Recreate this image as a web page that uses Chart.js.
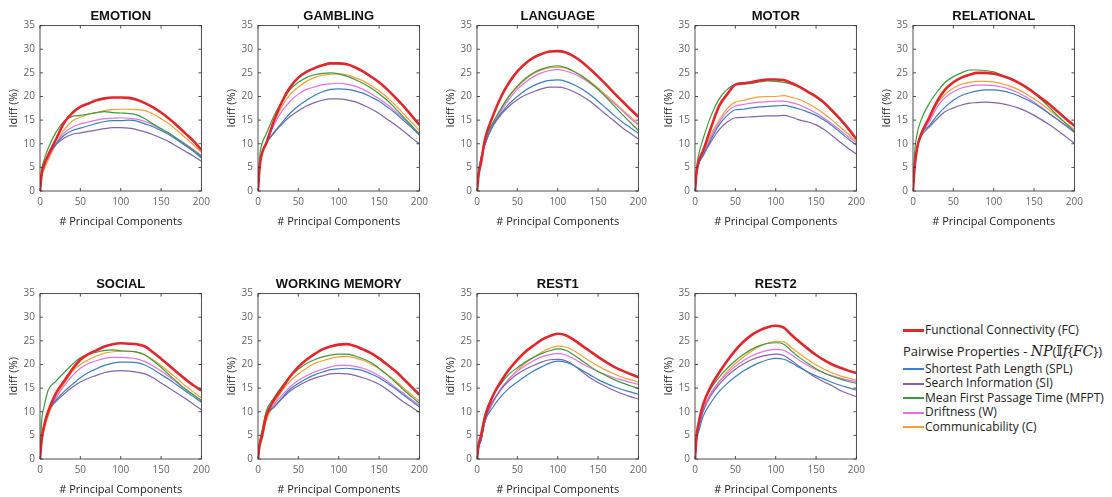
<!DOCTYPE html>
<html>
<head>
<meta charset="utf-8">
<script src="https://cdn.jsdelivr.net/npm/chart.js@4.4.1/dist/chart.umd.min.js"></script>
<style>
  html, body { margin: 0; padding: 0; background: #fff; }
  #fig { position: relative; width: 1112px; height: 497px; overflow: hidden; }
  #fig canvas { position: absolute; }
  #legend { position: absolute; left: 903px; top: 323px; font-family: "Open Sans", sans-serif; font-size: 12px; color: #222; }
  #legend .row { height: 14.5px; line-height: 14.5px; white-space: nowrap; }
  #legend .sw { display: inline-block; width: 21px; height: 2px; vertical-align: middle; margin-right: 1px; }
  #legend .head { height: 20px; line-height: 20px; margin: 3px 0 1px 0; font-size: 13px; }
  #legend .math { font-family: "DejaVu Serif", serif; font-style: italic; font-size: 14px; }
</style>
</head>
<body>
<div id="fig">
  <div id="legend">
    <div class="row"><span class="sw" style="background:#e3262b;height:3px"></span>Functional Connectivity (FC)</div>
    <div class="row head">Pairwise Properties - <span class="math">NP</span>(<span class="math" style="font-style:normal">𝕀</span><span class="math">f</span>{<span class="math">FC</span>})</div>
    <div class="row"><span class="sw" style="background:#3a7fc0"></span>Shortest Path Length (SPL)</div>
    <div class="row"><span class="sw" style="background:#8264ad"></span>Search Information (SI)</div>
    <div class="row"><span class="sw" style="background:#3c9a3f"></span>Mean First Passage Time (MFPT)</div>
    <div class="row"><span class="sw" style="background:#e470e4"></span>Driftness (W)</div>
    <div class="row"><span class="sw" style="background:#f5a032"></span>Communicability (C)</div>
  </div>
</div>
<script>

// number of principal components kept (x positions of every curve)
const pcs = [0, 2, 5, 10, 20, 30, 40, 50, 60, 70, 80, 90, 100, 110, 120, 130, 140, 150, 160, 170, 180, 190, 200];

const xTicks = [0, 50, 100, 150, 200];
const yTicks = [0, 5, 10, 15, 20, 25, 30, 35];

const seriesNames  = ['FC', 'SPL', 'SI', 'MFPT', 'W', 'C'];
const seriesColors = ['#e3262b', '#3a7fc0', '#8264ad', '#3c9a3f', '#e470e4', '#f5a032'];

// Idiff (%) per task
const emotion_fc   = [0, 3.5, 5.5, 7.5, 11, 14.5, 16.5, 17.8, 18.5, 19.2, 19.6, 19.8, 19.8, 19.7, 19.3, 18.6, 17.7, 16.6, 15.3, 13.8, 12.2, 10.6, 8.7];
const emotion_spl  = [0, 3.5, 5.5, 7.5, 10, 11.8, 12.8, 13.3, 13.8, 14.3, 14.7, 14.9, 14.9, 15, 14.8, 14.2, 13.6, 12.8, 11.9, 10.8, 9.6, 8.4, 7];
const emotion_si   = [0, 3.5, 5.5, 7.5, 9.8, 11.2, 12, 12.3, 12.6, 12.9, 13.2, 13.4, 13.4, 13.3, 13, 12.5, 11.9, 11.2, 10.4, 9.4, 8.4, 7.4, 6.3];
const emotion_mfpt = [0, 4.5, 6.5, 9, 12.5, 14.8, 15.8, 16, 16.3, 16.6, 16.8, 16.6, 16.5, 16.4, 16.1, 15.3, 14.2, 13.2, 12.2, 11, 9.8, 8.6, 7.3];
const emotion_w    = [0, 3.5, 5.5, 7, 10, 12.3, 13.5, 14.2, 14.6, 15, 15.3, 15.4, 15.5, 15.4, 15.2, 14.7, 14, 13.1, 12.2, 11.1, 10, 8.8, 7.5];
const emotion_c    = [0, 3, 4.5, 6.5, 10, 13, 14.8, 15.6, 16.2, 16.6, 17, 17.2, 17.3, 17.3, 17.2, 17, 16.3, 15.3, 14.2, 12.8, 11.3, 9.8, 8.2];

const gambling_fc   = [0, 5, 8, 10, 15, 19, 22, 24, 25.2, 26, 26.6, 27, 27, 26.8, 26.2, 25.3, 24.2, 23, 21.5, 19.8, 18, 16, 14];
const gambling_spl  = [0, 5, 8, 10, 12.5, 14.5, 16.5, 18, 19.2, 20.2, 21, 21.5, 21.6, 21.5, 21.2, 20.7, 19.9, 19, 17.8, 16.5, 15, 13.5, 11.8];
const gambling_si   = [0, 5, 8, 10, 12.3, 14.2, 15.8, 17, 18, 18.7, 19.2, 19.5, 19.5, 19.3, 18.9, 18.2, 17.4, 16.4, 15.2, 14, 12.7, 11.3, 10];
const gambling_mfpt = [0, 7, 10, 12, 16, 19, 21.5, 23, 24, 24.6, 24.9, 25, 24.8, 24.3, 23.6, 22.8, 21.8, 20.6, 19.2, 17.5, 15.7, 13.9, 12];
const gambling_w    = [0, 5, 8, 10, 14, 17, 19, 20.5, 21.5, 22, 22.5, 22.7, 22.8, 22.6, 22.2, 21.5, 20.6, 19.5, 18.3, 16.9, 15.4, 13.8, 12.2];
const gambling_c    = [0, 5, 8, 10, 14.5, 18, 20.5, 22, 23.2, 24, 24.5, 24.7, 24.8, 24.6, 24, 23.3, 22.3, 21.2, 19.8, 18.2, 16.4, 14.6, 12.8];

const language_fc   = [0, 3.5, 6, 11, 16, 20, 23, 25.3, 27, 28.2, 29, 29.5, 29.6, 29.3, 28.5, 27.3, 25.8, 24.2, 22.5, 20.7, 19, 17.3, 15.7];
const language_spl  = [0, 4, 7, 10, 14, 16.5, 18.5, 20, 21.3, 22.3, 23, 23.4, 23.5, 23.2, 22.5, 21.6, 20.4, 19, 17.5, 16, 14.6, 13.4, 12.2];
const language_si   = [0, 4, 7, 10, 13.8, 16.2, 18, 19.3, 20.3, 21, 21.6, 22, 22, 21.7, 21, 20.1, 19, 17.6, 16.2, 14.8, 13.4, 12.2, 11];
const language_mfpt = [0, 4, 7, 11, 14.5, 17.5, 20.2, 22.2, 23.8, 25, 25.8, 26.3, 26.5, 26.1, 25.3, 24.3, 23, 21.5, 19.8, 18, 16.2, 14.5, 12.8];
const language_w    = [0, 3.5, 6.5, 10, 14, 17, 19.5, 21.5, 23, 24.2, 25, 25.5, 25.7, 25.4, 24.8, 23.9, 22.8, 21.5, 20, 18.5, 17, 15.4, 14];
const language_c    = [0, 3.5, 6.5, 10.5, 14.5, 17.5, 20, 22, 23.6, 24.8, 25.6, 26.1, 26.2, 26, 25.3, 24.4, 23.2, 21.8, 20.3, 18.8, 17.2, 15.7, 14.2];

const motor_fc   = [0, 4, 6.5, 8.5, 13.5, 18, 20.5, 22.5, 22.8, 23, 23.4, 23.6, 23.6, 23.5, 22.8, 22, 21, 20, 18.7, 17, 15.2, 13.2, 11];
const motor_spl  = [0, 4, 6, 7.5, 11, 14, 16, 17.2, 17.3, 17.6, 17.8, 17.9, 18, 18.1, 17.8, 17.3, 16.7, 16, 15, 13.8, 12.4, 11, 9.7];
const motor_si   = [0, 4, 6, 7.5, 10.5, 13, 14.6, 15.5, 15.6, 15.7, 15.8, 15.9, 15.9, 16, 15.6, 15, 14.6, 14, 13, 11.7, 10.3, 9, 7.8];
const motor_mfpt = [0, 5, 8, 11, 16, 19.5, 21.5, 22.5, 22.6, 22.8, 23.1, 23.3, 23.2, 23, 22.6, 22, 21, 19.8, 18.5, 16.8, 15, 13, 11];
const motor_w    = [0, 4, 6, 7.5, 11.5, 14.5, 16.8, 18, 18.3, 18.6, 18.8, 18.9, 19, 19, 18.7, 18.2, 17.4, 16.5, 15.4, 14.2, 12.8, 11.5, 10.2];
const motor_c    = [0, 4, 6, 8, 12, 15, 17.5, 18.8, 19.2, 19.6, 19.9, 20, 20, 20.2, 19.8, 19.3, 18.5, 17.5, 16.3, 15, 13.5, 12, 10.5];

const relational_fc   = [0, 5, 9, 12, 15.5, 19, 21.5, 23, 24, 24.6, 25, 25, 24.8, 24.4, 23.8, 23, 22, 20.8, 19.5, 18.2, 16.7, 15.2, 13.8];
const relational_spl  = [0, 5, 9, 12, 13.8, 16, 17.8, 19.2, 20.2, 20.8, 21.2, 21.4, 21.4, 21.2, 20.8, 20.2, 19.4, 18.5, 17.4, 16.2, 15, 13.8, 12.4];
const relational_si   = [0, 5, 9, 11.5, 13.5, 15.3, 16.8, 17.6, 18.2, 18.6, 18.7, 18.8, 18.7, 18.5, 18.1, 17.6, 16.9, 16, 15, 13.9, 12.7, 11.4, 10.1];
const relational_mfpt = [0, 8, 12, 15, 18.5, 21, 23, 24.2, 25, 25.6, 25.6, 25.5, 25.2, 24.5, 23.8, 23, 22, 20.7, 19.2, 17.5, 15.8, 14.2, 12.6];
const relational_w    = [0, 5, 9, 12, 14.5, 17.8, 19.8, 21, 21.8, 22.2, 22.4, 22.4, 22.3, 22, 21.5, 20.8, 19.9, 18.8, 17.6, 16.3, 15, 13.7, 12.4];
const relational_c    = [0, 5, 9, 12, 15, 18.5, 20.5, 21.8, 22.6, 23, 23.2, 23.2, 23.1, 22.7, 22.2, 21.5, 20.6, 19.5, 18.3, 17, 15.6, 14.3, 13];

const social_fc   = [0, 4, 7, 10, 14, 16.5, 19, 21, 22.2, 23, 23.8, 24.3, 24.5, 24.4, 24.3, 23.8, 22.6, 21.2, 19.8, 18.3, 16.9, 15.6, 14.5];
const social_spl  = [0, 4, 7, 10, 12.5, 14.3, 15.8, 17.2, 18.3, 19.1, 19.8, 20.3, 20.5, 20.5, 20.4, 19.9, 19, 17.9, 16.8, 15.6, 14.4, 13.2, 12];
const social_si   = [0, 4, 7, 10, 12.2, 13.8, 15.2, 16.3, 17.1, 17.7, 18.3, 18.6, 18.7, 18.6, 18.4, 18, 17.2, 16.1, 15, 13.9, 12.8, 11.6, 10.4];
const social_mfpt = [0, 8, 11, 14.5, 16.5, 18.3, 20, 21.4, 22.2, 22.6, 23, 23.1, 22.9, 22.8, 22.6, 22, 20.8, 19.4, 17.8, 16.3, 14.8, 13.6, 12.3];
const social_w    = [0, 4, 7, 10, 13, 15.5, 17.6, 19.2, 20.2, 20.8, 21.3, 21.5, 21.5, 21.4, 21.2, 20.6, 19.7, 18.6, 17.4, 16.1, 14.8, 13.6, 12.4];
const social_c    = [0, 3.5, 6, 9, 13, 16, 18.5, 20, 21, 21.8, 22.4, 22.7, 22.8, 22.8, 22.6, 22, 21, 19.8, 18.4, 17, 15.5, 14.2, 12.9];

const wm_fc   = [0, 3, 5, 9, 12.5, 15, 17.5, 19.5, 21, 22.2, 23.2, 23.8, 24.2, 24.3, 23.9, 23.2, 22.4, 21.3, 20, 18.6, 17, 15.3, 13.6];
const wm_spl  = [0, 3, 5, 9, 11, 13, 14.8, 16, 17, 17.8, 18.4, 18.9, 19.1, 19.2, 19, 18.7, 18, 17.2, 16.1, 14.9, 13.6, 12.3, 11];
const wm_si   = [0, 3, 5, 9, 11, 12.8, 14.4, 15.5, 16.4, 17.1, 17.6, 18, 18.1, 18, 17.7, 17.2, 16.6, 15.8, 14.7, 13.4, 12.1, 11, 9.9];
const wm_mfpt = [0, 3.5, 6, 10, 13, 15.5, 17.5, 19, 20.2, 21, 21.6, 22, 22.2, 22.2, 21.8, 21.2, 20.4, 19.2, 17.8, 16.3, 14.7, 13.2, 11.8];
const wm_w    = [0, 3, 5, 9, 11.5, 13.5, 15.3, 16.6, 17.6, 18.4, 19, 19.5, 19.8, 19.8, 19.6, 19.2, 18.5, 17.6, 16.5, 15.2, 13.9, 12.6, 11.4];
const wm_c    = [0, 2.5, 4, 8, 11.5, 14.5, 16.5, 18, 19.2, 20.2, 20.8, 21.3, 21.6, 21.7, 21.4, 20.9, 20.1, 19.1, 17.9, 16.6, 15.1, 13.6, 12.3];

const rest1_fc   = [0, 3, 5, 9, 13.5, 16.5, 19, 21, 22.7, 24, 25.2, 26, 26.5, 26.2, 25.2, 24, 22.8, 21.6, 20.5, 19.5, 18.7, 18, 17.3];
const rest1_spl  = [0, 2.5, 4, 8, 11, 13.3, 15, 16.3, 17.5, 18.6, 19.5, 20.3, 20.7, 20.5, 19.8, 18.8, 17.8, 16.8, 16, 15.3, 14.7, 14.2, 13.7];
const rest1_si   = [0, 2.5, 4, 8.5, 12.3, 14.8, 16.6, 18, 19, 19.8, 20.5, 21, 21.1, 20.8, 19.8, 18.5, 17.2, 16.2, 15.3, 14.5, 13.8, 13.2, 12.7];
const rest1_mfpt = [0, 3, 5, 9.5, 13.5, 16, 18, 19.3, 20.5, 21.5, 22.3, 22.9, 23.3, 23, 22, 20.8, 19.6, 18.5, 17.6, 16.8, 16.1, 15.5, 14.9];
const rest1_w    = [0, 2.5, 4, 8, 12, 15, 17, 18.6, 19.8, 20.8, 21.6, 22.1, 22.3, 22, 21.2, 20.2, 19.3, 18.5, 17.8, 17.2, 16.7, 16.2, 15.8];
const rest1_c    = [0, 2.5, 4, 8, 12, 14.8, 17, 18.8, 20.3, 21.5, 22.6, 23.4, 23.9, 23.7, 22.9, 21.8, 20.7, 19.7, 18.8, 18, 17.3, 16.8, 16.3];

const rest2_fc   = [0, 5, 8, 11.5, 15.5, 18.3, 20.8, 23, 24.8, 26.2, 27.2, 27.9, 28.2, 27.8, 26.2, 24.7, 23.3, 22, 20.9, 20, 19.3, 18.7, 18.2];
const rest2_spl  = [0, 4, 6, 9, 12, 14.3, 16, 17.4, 18.6, 19.6, 20.4, 21, 21.3, 21.1, 20.3, 19.3, 18.4, 17.6, 16.9, 16.2, 15.6, 15.1, 14.6];
const rest2_si   = [0, 4.5, 7, 10, 13.5, 15.8, 17.6, 19, 20.1, 21, 21.6, 22, 22.2, 21.9, 20.8, 19.5, 18.3, 17.2, 16.3, 15.5, 14.5, 13.8, 13.2];
const rest2_mfpt = [0, 5, 8, 11.5, 15, 17.3, 19.2, 20.8, 22.1, 23.2, 24, 24.5, 24.6, 24.3, 22.8, 21.4, 20.2, 19.1, 18.2, 17.5, 16.9, 16.4, 16];
const rest2_w    = [0, 4.5, 7, 10.5, 14, 16.3, 18.1, 19.6, 20.8, 21.8, 22.5, 23, 23.2, 23, 22, 20.8, 19.8, 18.9, 18.2, 17.6, 17.1, 16.7, 16.4];
const rest2_c    = [0, 4.5, 7, 10.5, 14, 16.5, 18.5, 20.2, 21.6, 22.8, 23.8, 24.5, 24.9, 24.8, 23.5, 22.2, 21, 19.9, 19, 18.2, 17.6, 17.1, 16.7];

// panel title, canvas left/top and the six curves (same order as seriesNames)
const panels = [
    ['EMOTION',        0,   0,   [emotion_fc, emotion_spl, emotion_si, emotion_mfpt, emotion_w, emotion_c]],
    ['GAMBLING',       218, 0,   [gambling_fc, gambling_spl, gambling_si, gambling_mfpt, gambling_w, gambling_c]],
    ['LANGUAGE',       437, 0,   [language_fc, language_spl, language_si, language_mfpt, language_w, language_c]],
    ['MOTOR',          655, 0,   [motor_fc, motor_spl, motor_si, motor_mfpt, motor_w, motor_c]],
    ['RELATIONAL',     873, 0,   [relational_fc, relational_spl, relational_si, relational_mfpt, relational_w, relational_c]],
    ['SOCIAL',         0,   268, [social_fc, social_spl, social_si, social_mfpt, social_w, social_c]],
    ['WORKING MEMORY', 218, 268, [wm_fc, wm_spl, wm_si, wm_mfpt, wm_w, wm_c]],
    ['REST1',          437, 268, [rest1_fc, rest1_spl, rest1_si, rest1_mfpt, rest1_w, rest1_c]],
    ['REST2',          655, 268, [rest2_fc, rest2_spl, rest2_si, rest2_mfpt, rest2_w, rest2_c]]
];

// box around the axes plus small inward ticks on all four sides
const boxAxes = {
    id: 'boxAxes',
    afterDatasetsDraw(chart) {
        const {ctx, chartArea: a, scales} = chart;
        ctx.save();
        ctx.strokeStyle = '#3c3c3c';
        ctx.lineWidth = 0.9;
        ctx.strokeRect(a.left, a.top, a.right - a.left, a.bottom - a.top);
        ctx.beginPath();
        scales.x.ticks.forEach(t => {
            const px = scales.x.getPixelForValue(t.value);
            ctx.moveTo(px, a.bottom); ctx.lineTo(px, a.bottom - 3);
            ctx.moveTo(px, a.top);    ctx.lineTo(px, a.top + 3);
        });
        scales.y.ticks.forEach(t => {
            const py = scales.y.getPixelForValue(t.value);
            ctx.moveTo(a.left, py);  ctx.lineTo(a.left + 3, py);
            ctx.moveTo(a.right, py); ctx.lineTo(a.right - 3, py);
        });
        ctx.stroke();
        ctx.restore();
    }
};

const tickFont  = {family: 'Open Sans', size: 10};
const titleFont = {family: 'Open Sans', size: 11};

function makePanel(p) {
    const [name, left, top, curves] = p;
    const cv = document.createElement('canvas');
    cv.width = 215;
    cv.height = 235;
    cv.style.left = left + 'px';
    cv.style.top = top + 'px';
    document.getElementById('fig').appendChild(cv);

    const datasets = curves.map((vals, i) => ({
        label: seriesNames[i],
        data: pcs.map((x, k) => ({x: x, y: vals[k]})),
        borderColor: seriesColors[i],
        borderWidth: i === 0 ? 2.6 : 1.2,
        pointRadius: 0,
        fill: false,
        cubicInterpolationMode: 'monotone'
    }));

    new Chart(cv.getContext('2d'), {
        type: 'line',
        data: {datasets: datasets},
        plugins: [boxAxes],
        options: {
            responsive: false,
            animation: false,
            events: [],
            layout: {padding: {left: 0, right: 10, top: 0, bottom: 0}},
            plugins: {
                legend: {display: false},
                tooltip: {enabled: false},
                title: {
                    display: true,
                    fullSize: false,          // centre over the plot box only
                    text: name,
                    color: '#111',
                    font: {family: 'Liberation Sans', size: 13, weight: 'bold'},
                    padding: {top: 9, bottom: 1}
                }
            },
            scales: {
                x: {
                    type: 'linear',
                    min: 0, max: 200,
                    afterBuildTicks: s => { s.ticks = xTicks.map(v => ({value: v})); },
                    afterFit: s => { s.height = 44; },
                    grid: {display: false, drawTicks: false},
                    border: {display: false},
                    ticks: {color: '#666', font: tickFont, padding: 5, maxRotation: 0},
                    title: {display: true, text: '# Principal Components', color: '#222', font: titleFont, padding: {top: 0, bottom: 7}}
                },
                y: {
                    type: 'linear',
                    min: 0, max: 35,
                    afterBuildTicks: s => { s.ticks = yTicks.map(v => ({value: v})); },
                    afterFit: s => { s.width = 40; },
                    grid: {display: false, drawTicks: false},
                    border: {display: false},
                    ticks: {color: '#666', font: tickFont, padding: 5},
                    title: {display: true, text: 'Idiff (%)', color: '#222', font: titleFont, padding: {top: 7, bottom: 0}}
                }
            }
        }
    });
}

panels.forEach(makePanel);
</script>
</body>
</html>
